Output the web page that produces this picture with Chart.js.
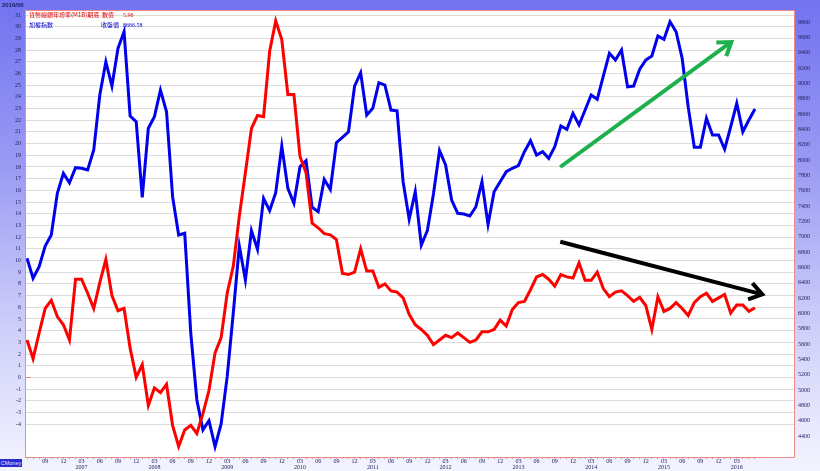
<!DOCTYPE html>
<html lang="zh-Hant">
<head>
  <meta charset="UTF-8">
  <title>M1B vs TAIEX</title>
  <script src="https://cdn.jsdelivr.net/npm/chart.js"></script>
  <style>
    html, body { margin: 0; padding: 0; }
    body {
      width: 820px;
      height: 471px;
      overflow: hidden;
      position: relative;
      background: linear-gradient(to bottom, #7272f0 0%, #9a9af4 35%, #cfcffa 70%, #f4f4ff 100%);
    }
    #chart { position: absolute; left: 0; top: 0; }
    .txt {
      position: absolute;
      white-space: nowrap;
      font-family: 'Noto Sans CJK TC', sans-serif;
      font-size: 6px;
      line-height: 8px;
    }
    .num { font-family: 'Liberation Serif', serif; }
    .red { color: #e00000; }
    .blue { color: #0000cc; }
    #date {
      left: 2px; top: 1px;
      font-family: 'Liberation Sans', sans-serif;
      font-weight: bold;
      color: #1c1c5c;
    }
    #brand {
      left: 0; top: 459px;
      width: 22px; height: 8px;
      background: #2a2ad0;
      color: #e8e8ff;
      font-family: 'Liberation Sans', sans-serif;
      font-size: 5.5px;
      text-align: center;
    }
  </style>
</head>
<body>
  <canvas id="chart" width="820" height="471"></canvas>

  <div class="txt" id="date">2016/06</div>
  <div class="txt red" style="left:29px; top:11px;">貨幣總額年增率(M1B)期底</div>
  <div class="txt red" style="left:102px; top:11px;">數值</div>
  <div class="txt red num" style="left:123px; top:11px;">5.96</div>
  <div class="txt blue" style="left:29px; top:21px;">加權指數</div>
  <div class="txt blue" style="left:101px; top:21px;">收盤價</div>
  <div class="txt blue num" style="left:123px; top:21px;">8666.58</div>
  <div class="txt" id="brand">CMoney</div>

  <script>
    // monthly points, first one is 2006/06, last one 2016/06
    const startYear = 2006;
    const startMonth = 6;
    const lastLabelledMonth = 117;   // 2016/03, nothing is labelled after it

    // M1B year-over-year growth (%), left axis
    const m1bGrowth = [
      3.2, 1.6, 3.8, 5.9, 6.6, 5.2, 4.5, 3.2, 8.4, 8.4, 7.2, 5.9,
      8.1, 10.1, 7.0, 5.7, 5.9, 2.5, 0.0, 1.1, -2.4, -0.9, -1.3, -0.6,
      -4.1, -5.9, -4.5, -4.1, -4.8, -3.1, -1.1, 2.1, 3.4, 7.2, 9.5, 13.8,
      17.5, 21.3, 22.4, 22.3, 27.9, 30.5, 28.9, 24.2, 24.2, 18.9, 17.5, 13.2,
      12.8, 12.3, 12.2, 11.8, 8.9, 8.8, 9.0, 11.0, 9.1, 9.1, 7.7, 8.0,
      7.4, 7.3, 6.8, 5.4, 4.5, 4.1, 3.6, 2.8, 3.2, 3.6, 3.4, 3.8,
      3.4, 3.0, 3.2, 3.9, 3.9, 4.1, 4.9, 4.4, 5.8, 6.4, 6.5, 7.5,
      8.6, 8.8, 8.4, 7.8, 8.8, 8.6, 8.5, 9.8, 8.3, 8.3, 9.0, 7.6,
      6.9, 7.3, 7.4, 7.0, 6.5, 6.85, 6.15, 4.1, 6.9, 5.65, 5.9, 6.4,
      5.9, 5.3, 6.4, 6.9, 7.2, 6.5, 6.8, 7.1, 5.5, 6.2, 6.2, 5.65,
      5.96
    ];

    // TAIEX month-end close, right axis
    const taiexClose = [
      6718, 6457, 6608, 6878, 7022, 7566, 7826, 7704, 7900, 7892, 7870, 8130,
      8848, 9282, 8965, 9457, 9674, 8574, 8500, 7514, 8414, 8565, 8913, 8630,
      7522, 7022, 7044, 5740, 4870, 4479, 4600, 4261, 4557, 5174, 6001, 6878,
      6435, 7078, 6835, 7500, 7339, 7574, 8183, 7631, 7435, 7913, 7991, 7383,
      7326, 7748, 7615, 8226, 8296, 8369, 8965, 9139, 8587, 8674, 9009, 8978,
      8652, 8643, 7717, 7227, 7587, 6891, 7078, 7557, 8122, 7935, 7478, 7305,
      7296, 7270, 7391, 7717, 7160, 7587, 7717, 7848, 7892, 7926, 8108, 8252,
      8065, 8108, 8022, 8174, 8444, 8401, 8609, 8457, 8652, 8848, 8792, 9096,
      9392, 9304, 9435, 8956, 8965, 9185, 9304, 9357, 9617, 9574, 9804, 9673,
      9327, 8690, 8166, 8166, 8544, 8326, 8326, 8140, 8434, 8740, 8369, 8522,
      8666.58
    ];

    // hand-drawn trend arrows (month index, axis value)
    const upArrowX = [87.9, 116.1];
    const upArrowY = [7909, 9540];       // right axis
    const downArrowX = [87.9, 121.2];
    const downArrowY = [11.6, 7.1];      // left axis

    const leftTicks = [];
    for (let v = -4; v <= 31; v++) leftTicks.push(v);
    const rightTicks = [];
    for (let v = 4400; v <= 9800; v += 200) rightTicks.push(v);

    const tickFont = { family: "'Liberation Serif', serif", size: 6, lineHeight: 1 };
    const tickColor = '#1c1c5c';
    const frameColor = '#e88c8c';

    function monthLabel(m) {
      const total = startMonth - 1 + m;
      const mon = total % 12 + 1;
      const year = startYear + Math.floor(total / 12);
      if (m <= 0 || m > lastLabelledMonth || mon % 3 !== 0) return '';
      const mm = String(mon).padStart(2, '0');
      return mon === 3 ? [mm, String(year)] : mm;
    }

    const toPoints = (xs, ys) => ys.map((v, i) => ({ x: xs ? xs[i] : i, y: v }));

    const plotFrame = {
      id: 'plotFrame',
      beforeDraw(chart) {
        const a = chart.chartArea, ctx = chart.ctx;
        ctx.save();
        ctx.fillStyle = '#ffffff';
        ctx.fillRect(a.left, a.top, a.right - a.left, a.bottom - a.top);
        ctx.restore();
      },
      afterDraw(chart) {
        const a = chart.chartArea, ctx = chart.ctx;
        ctx.save();
        ctx.strokeStyle = frameColor;
        ctx.lineWidth = 1;
        ctx.strokeRect(a.left + 0.5, a.top + 0.5, a.right - a.left - 1, a.bottom - a.top);
        // little zero marker on the left axis
        const y0 = Math.round(chart.scales.y.getPixelForValue(0)) + 0.5;
        ctx.beginPath();
        ctx.moveTo(a.left, y0);
        ctx.lineTo(a.left + 6, y0);
        ctx.stroke();
        ctx.restore();
      }
    };

    const arrowHeads = {
      id: 'arrowHeads',
      afterDatasetsDraw(chart) {
        const ctx = chart.ctx;
        chart.data.datasets.forEach((ds, di) => {
          if (!ds.arrow) return;
          const pts = chart.getDatasetMeta(di).data;
          const a = pts[pts.length - 2], b = pts[pts.length - 1];
          const ang = Math.atan2(b.y - a.y, b.x - a.x);
          const len = 15, spread = 0.6;
          ctx.save();
          ctx.strokeStyle = ds.borderColor;
          ctx.lineWidth = ds.borderWidth;
          ctx.lineCap = 'butt';
          ctx.lineJoin = 'miter';
          ctx.beginPath();
          ctx.moveTo(b.x - len * Math.cos(ang - spread), b.y - len * Math.sin(ang - spread));
          ctx.lineTo(b.x, b.y);
          ctx.lineTo(b.x - len * Math.cos(ang + spread), b.y - len * Math.sin(ang + spread));
          ctx.stroke();
          ctx.restore();
        });
      }
    };

    new Chart(document.getElementById('chart'), {
      type: 'line',
      data: {
        datasets: [
          {
            data: toPoints(upArrowX, upArrowY),
            yAxisID: 'y1',
            borderColor: '#1db04c',
            borderWidth: 4,
            pointRadius: 0,
            arrow: true,
            order: 0
          },
          {
            data: toPoints(downArrowX, downArrowY),
            yAxisID: 'y',
            borderColor: '#000000',
            borderWidth: 4,
            pointRadius: 0,
            arrow: true,
            order: 0
          },
          {
            label: '貨幣總額年增率(M1B)期底',
            data: toPoints(null, m1bGrowth),
            yAxisID: 'y',
            borderColor: '#ff0000',
            borderWidth: 3,
            pointRadius: 0,
            tension: 0,
            order: 1
          },
          {
            label: '加權指數',
            data: toPoints(null, taiexClose),
            yAxisID: 'y1',
            borderColor: '#0000ee',
            borderWidth: 3,
            pointRadius: 0,
            tension: 0,
            order: 2
          }
        ]
      },
      options: {
        responsive: false,
        animation: false,
        devicePixelRatio: 1,
        layout: { padding: { top: 10, left: 0, right: 0, bottom: 0 } },
        plugins: {
          legend: { display: false },
          tooltip: { enabled: false }
        },
        scales: {
          x: {
            type: 'linear',
            min: -0.33,
            max: 126.6,
            afterFit: s => { s.height = 14; },
            afterBuildTicks: s => {
              const t = [];
              for (let m = 0; m <= 120; m++) t.push({ value: m });
              s.ticks = t;
            },
            grid: {
              drawOnChartArea: false,
              drawTicks: true,
              tickLength: 2,
              tickColor: frameColor
            },
            border: { display: false },
            ticks: {
              autoSkip: false,
              maxRotation: 0,
              padding: -1,
              font: tickFont,
              color: tickColor,
              callback: v => monthLabel(Math.round(v))
            }
          },
          y: {
            position: 'left',
            min: -6.81,
            max: 31.43,
            afterFit: s => { s.width = 25; },
            afterBuildTicks: s => { s.ticks = leftTicks.map(v => ({ value: v })); },
            grid: { color: '#dcdcdc', lineWidth: 1, drawTicks: false },
            border: { display: false },
            ticks: { padding: 4, font: tickFont, color: tickColor }
          },
          y1: {
            position: 'right',
            min: 4126,
            max: 9957,
            afterFit: s => { s.width = 25; },
            afterBuildTicks: s => { s.ticks = rightTicks.map(v => ({ value: v })); },
            grid: { drawOnChartArea: false, drawTicks: false },
            border: { display: false },
            ticks: {
              padding: 3,
              font: tickFont,
              color: tickColor,
              callback: v => String(v)
            }
          }
        }
      },
      plugins: [plotFrame, arrowHeads]
    });
  </script>
</body>
</html>
